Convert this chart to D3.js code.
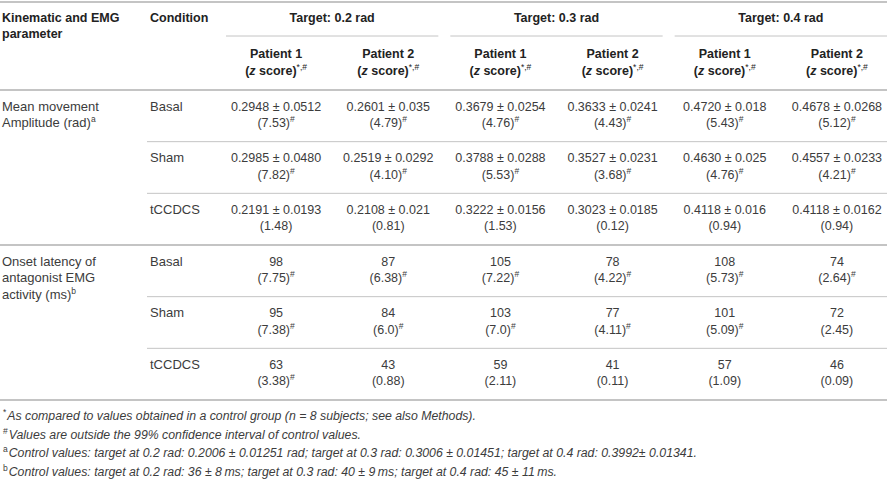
<!DOCTYPE html>
<html>
  <head>
    <title></title>
    <script src="https://d3js.org/d3.v7.min.js" charset="utf-8"></script>
    <style type="text/css">
      body { margin: 0; background: #fff; }
      svg text { font-family: "Liberation Sans", Arial, sans-serif; font-size: 12.5px; fill: #3c3c3c; }
      svg text.lab { font-size: 13px; }
      svg text.head { font-weight: bold; fill: #222; }
      svg text.note { font-style: italic; font-size: 12.3px; }
    </style>
  </head>
  <body>
    <script type="text/javascript">

      // Table content
      var targets = ["Target: 0.2 rad", "Target: 0.3 rad", "Target: 0.4 rad"];
      var patients = ["Patient 1", "Patient 2"];
      var conditions = ["Basal", "Sham", "tCCDCS"];
      var paramLabels = [
        { lines: ["Mean movement", "Amplitude (rad)"], sup: "a" },
        { lines: ["Onset latency of", "antagonist EMG", "activity (ms)"], sup: "b" }
      ];

      // Mean movement amplitude, one row per condition, six columns (target x patient)
      var ampMean = [
        ["0.2948", "0.2601", "0.3679", "0.3633", "0.4720", "0.4678"],
        ["0.2985", "0.2519", "0.3788", "0.3527", "0.4630", "0.4557"],
        ["0.2191", "0.2108", "0.3222", "0.3023", "0.4118", "0.4118"]
      ];
      var ampSD = [
        ["0.0512", "0.035", "0.0254", "0.0241", "0.018", "0.0268"],
        ["0.0480", "0.0292", "0.0288", "0.0231", "0.025", "0.0233"],
        ["0.0193", "0.021", "0.0156", "0.0185", "0.016", "0.0162"]
      ];
      var ampZ = [
        ["7.53", "4.79", "4.76", "4.43", "5.43", "5.12"],
        ["7.82", "4.10", "5.53", "3.68", "4.76", "4.21"],
        ["1.48", "0.81", "1.53", "0.12", "0.94", "0.94"]
      ];
      var ampOut = [
        [1, 1, 1, 1, 1, 1],
        [1, 1, 1, 1, 1, 1],
        [0, 0, 0, 0, 0, 0]
      ];

      // Onset latency of antagonist EMG activity (ms)
      var latency = [
        ["98", "87", "105", "78", "108", "74"],
        ["95", "84", "103", "77", "101", "72"],
        ["63", "43", "59", "41", "57", "46"]
      ];
      var latZ = [
        ["7.75", "6.38", "7.22", "4.22", "5.73", "2.64"],
        ["7.38", "6.0", "7.0", "4.11", "5.09", "2.45"],
        ["3.38", "0.88", "2.11", "0.11", "1.09", "0.09"]
      ];
      var latOut = [
        [1, 1, 1, 1, 1, 1],
        [1, 1, 1, 1, 1, 0],
        [1, 0, 0, 0, 0, 0]
      ];

      var notes = [
        { mark: "*", text: "As compared to values obtained in a control group (n = 8 subjects; see also Methods)." },
        { mark: "#", text: "Values are outside the 99% confidence interval of control values." },
        { mark: "a", text: "Control values: target at 0.2 rad: 0.2006 \u00b1 0.01251 rad; target at 0.3 rad: 0.3006 \u00b1 0.01451; target at 0.4 rad: 0.3992\u00b1 0.01341." },
        { mark: "b", text: "Control values: target at 0.2 rad: 36 \u00b1 8\u2009ms; target at 0.3 rad: 40 \u00b1 9\u2009ms; target at 0.4 rad: 45 \u00b1 11\u2009ms." }
      ];

      // Setup size
      var width = 887;
      var height = 481;
      var svg = d3.select("body")
          .append("svg")
          .attr("width", width)
          .attr("height", height);

      var lineColor = "#c4c4c4";

      // six data columns
      var colKeys = d3.range(6);
      var x = d3.scaleBand().domain(colKeys).range([220, 893]);
      // body rows (3 conditions x 2 parameters)
      var y = d3.scaleLinear().domain([0, 6]).range([90, 400]);

      function hline(x1, x2, yy, w) {
        svg.append("line")
            .attr("x1", x1).attr("x2", x2)
            .attr("y1", yy).attr("y2", yy)
            .style("stroke", lineColor)
            .style("stroke-width", w);
      }

      // small superscript helper
      function sup(sel, s) {
        sel.append("tspan")
            .attr("baseline-shift", "super")
            .style("font-size", "8.5px")
            .style("font-weight", "normal")
            .style("font-style", "normal")
            .text(s);
      }

      // ---- Header ----
      hline(0, width, 2, 2);

      var h1 = svg.append("text").attr("class", "head").attr("x", 2).attr("y", 22);
      h1.append("tspan").attr("x", 2).text("Kinematic and EMG");
      h1.append("tspan").attr("x", 2).attr("dy", 16).text("parameter");

      svg.append("text").attr("class", "head").attr("x", 150).attr("y", 22).text("Condition");

      targets.forEach(function(t, i) {
        var x0 = x(i * 2), x1 = x(i * 2 + 1) + x.bandwidth();
        svg.append("text").attr("class", "head")
            .attr("x", (x0 + x1) / 2)
            .attr("y", 22)
            .style("text-anchor", "middle")
            .text(t);
        hline(x0 + 6, Math.min(x1 - 6, width), 36, 1);
      });

      colKeys.forEach(function(c) {
        var cx = x(c) + x.bandwidth() / 2;
        svg.append("text").attr("class", "head")
            .attr("x", cx).attr("y", 58)
            .style("text-anchor", "middle")
            .text(patients[c % 2]);
        var z = svg.append("text").attr("class", "head")
            .attr("x", cx).attr("y", 75)
            .style("text-anchor", "middle");
        z.append("tspan").text("(");
        z.append("tspan").style("font-style", "italic").text("z");
        z.append("tspan").text(" score)");
        sup(z, "*,#");
      });

      hline(0, width, y(0), 2);

      // ---- Body ----
      function drawBlock(block, topLine, zs, outs) {
        var r0 = block * 3;
        var lab = paramLabels[block];
        var t = svg.append("text").attr("class", "lab").attr("x", 2).attr("y", y(r0) + 20.5);
        lab.lines.forEach(function(l, k) {
          t.append("tspan").attr("x", 2).attr("dy", k ? 16.5 : 0).text(l);
        });
        sup(t, lab.sup);

        conditions.forEach(function(cond, j) {
          var top = y(r0 + j);
          svg.append("text").attr("class", "lab").attr("x", 150).attr("y", top + 20.5).text(cond);
          colKeys.forEach(function(c) {
            var cx = x(c) + x.bandwidth() / 2;
            svg.append("text")
                .attr("x", cx).attr("y", top + 20.5)
                .style("text-anchor", "middle")
                .text(topLine(j, c));
            var zt = svg.append("text")
                .attr("x", cx).attr("y", top + 37)
                .style("text-anchor", "middle")
                .text("(" + zs[j][c] + ")");
            if (outs[j][c]) sup(zt, "#");
          });
          if (j < 2) hline(147, width, y(r0 + j + 1), 1);
        });
        hline(0, width, y(r0 + 3), 2);
      }

      drawBlock(0, function(j, c) { return ampMean[j][c] + " \u00b1 " + ampSD[j][c]; }, ampZ, ampOut);
      drawBlock(1, function(j, c) { return latency[j][c]; }, latZ, latOut);

      // ---- Footnotes ----
      notes.forEach(function(n, i) {
        var t = svg.append("text").attr("class", "note")
            .attr("x", 3).attr("y", 420 + i * 18.7);
        sup(t, n.mark);
        t.append("tspan").attr("dx", 1).text(n.text);
      });

    </script>
  </body>
</html>
